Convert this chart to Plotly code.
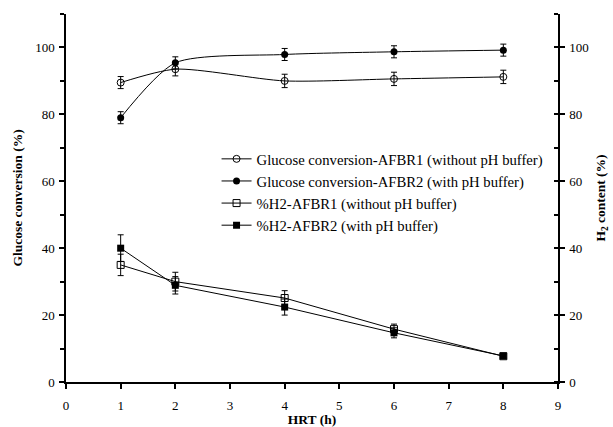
import plotly.graph_objects as go

hrt = [1, 2, 4, 6, 8]
glu_afbr1 = [89.5, 93.5, 90.0, 90.6, 91.2]
glu_afbr1_err = [1.8, 2.0, 2.0, 2.0, 2.0]
glu_afbr2 = [79.0, 95.4, 97.9, 98.7, 99.2]
glu_afbr2_err = [1.8, 1.8, 1.8, 1.8, 1.8]
h2_afbr1 = [35.0, 30.0, 25.1, 15.8, 7.7]
h2_afbr1_err = [3.2, 2.8, 2.2, 1.5, 0.6]
h2_afbr2 = [40.0, 28.9, 22.4, 14.7, 7.8]
h2_afbr2_err = [4.0, 2.6, 2.4, 1.5, 0.6]

FONT = "Liberation Serif, Times New Roman, serif"

def err(vals):
    return dict(type="data", array=vals, visible=True, color="black",
                thickness=1, width=3)

fig = go.Figure()
fig.add_trace(go.Scatter(
    x=hrt, y=glu_afbr1, error_y=err(glu_afbr1_err), mode="lines+markers",
    name="Glucose conversion-AFBR1 (without pH buffer)",
    line=dict(color="black", width=1, shape="spline", smoothing=0.7),
    marker=dict(symbol="circle-open", size=7, color="black", line=dict(width=1))))
fig.add_trace(go.Scatter(
    x=hrt, y=glu_afbr2, error_y=err(glu_afbr2_err), mode="lines+markers",
    name="Glucose conversion-AFBR2 (with pH buffer)",
    line=dict(color="black", width=1, shape="spline", smoothing=0.7),
    marker=dict(symbol="circle", size=7, color="black")))
fig.add_trace(go.Scatter(
    x=hrt, y=h2_afbr1, error_y=err(h2_afbr1_err), mode="lines+markers",
    name="%H2-AFBR1 (without pH buffer)", yaxis="y2",
    line=dict(color="black", width=1),
    marker=dict(symbol="square-open", size=7, color="black", line=dict(width=1))))
fig.add_trace(go.Scatter(
    x=hrt, y=h2_afbr2, error_y=err(h2_afbr2_err), mode="lines+markers",
    name="%H2-AFBR2 (with pH buffer)", yaxis="y2",
    line=dict(color="black", width=1),
    marker=dict(symbol="square", size=7, color="black")))

axis_common = dict(showline=True, linecolor="black", linewidth=1.5,
                   showgrid=False, zeroline=False, ticks="outside",
                   tickcolor="black", ticklen=5, tickwidth=1.5, automargin=False,
                   tickfont=dict(family=FONT, size=13, color="black"))

fig.update_layout(
    width=613, height=427,
    margin=dict(l=66, r=55, t=14, b=45),
    paper_bgcolor="white", plot_bgcolor="white",
    font=dict(family=FONT, size=13, color="black"),
    showlegend=True,
    legend=dict(x=0.306, y=0.65, xanchor="left", yanchor="top",
                bgcolor="rgba(0,0,0,0)", borderwidth=0, itemwidth=30,
                font=dict(family=FONT, size=14.7, color="black"),
                tracegroupgap=0),
    xaxis=dict(range=[0, 9], dtick=1, tick0=0, ticklabelstandoff=6,
               title=dict(text="<b>HRT (h)</b>", standoff=0,
                          font=dict(family=FONT, size=13.5)),
               **axis_common),
    yaxis=dict(range=[0, 110], dtick=20, tick0=0, ticklabelstandoff=2,
               minor=dict(dtick=10, ticks="outside", ticklen=4, tickcolor="black"),
               title=dict(text="<b>Glucose conversion (%)</b>", standoff=9,
                          font=dict(family=FONT, size=13.5)),
               **axis_common),
    yaxis2=dict(range=[0, 110], dtick=20, tick0=0, overlaying="y", side="right",
                ticklabelstandoff=2,
                minor=dict(dtick=10, ticks="inside", ticklen=4, tickcolor="black"),
                title=dict(text="<b>H<sub>2</sub> content (%)</b>", standoff=8,
                           font=dict(family=FONT, size=13.5)),
                **axis_common),
    yaxis3=dict(range=[0, 110], dtick=20, tick0=0, overlaying="y", side="right",
                showline=False, showgrid=False, zeroline=False, showticklabels=False,
                ticks="inside", ticklen=5, tickwidth=1.5, tickcolor="black",
                automargin=False),
)

fig.write_html("out.html", config={"displayModeBar": False},
               post_script="document.body.style.margin='0';document.body.style.overflow='hidden';")
